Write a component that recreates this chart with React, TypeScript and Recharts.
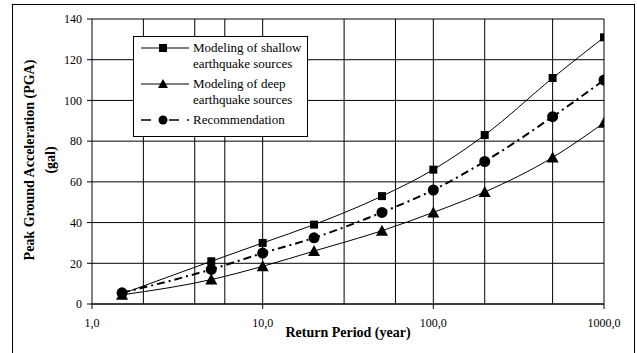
import React from "react";
import {
  LineChart,
  Line,
  XAxis,
  YAxis,
  CartesianGrid,
  Legend,
  Label,
} from "recharts";

// Return period in years (log axis)
const returnPeriods = [1.5, 5, 10, 20, 50, 100, 200, 500, 1000];

// Peak ground acceleration in gal
const shallowPGA = [5, 21, 30, 39, 53, 66, 83, 111, 131];
const deepPGA = [4.5, 12, 18.5, 26, 36, 45, 55, 72, 89];
const recommendedPGA = [5.5, 17, 25, 32.5, 45, 56, 70, 92, 110];

const xTicks = [1, 10, 100, 1000];
const yTicks = [0, 20, 40, 60, 80, 100, 120, 140];

// minor decade lines for the log grid
const xGridValues = [
  2, 3, 4, 5, 6, 7, 8, 9,
  10, 20, 30, 40, 50, 60, 70, 80, 90,
  100, 200, 300, 400, 500, 600, 700, 800, 900,
  1000,
];

const chartData = returnPeriods.map((period, i) => ({
  period,
  shallow: shallowPGA[i],
  deep: deepPGA[i],
  recommended: recommendedPGA[i],
}));

const FONT = "Liberation Serif, DejaVu Serif, serif";

const SquareDot = (props: any) => {
  const { cx, cy } = props;
  if (cx == null || cy == null) return null;
  return <rect x={cx - 4} y={cy - 4} width={8} height={8} fill="#000" />;
};

const TriangleDot = (props: any) => {
  const { cx, cy } = props;
  if (cx == null || cy == null) return null;
  return (
    <polygon
      points={`${cx},${cy - 6} ${cx + 6},${cy + 5} ${cx - 6},${cy + 5}`}
      fill="#000"
    />
  );
};

const CircleDot = (props: any) => {
  const { cx, cy } = props;
  if (cx == null || cy == null) return null;
  return <circle cx={cx} cy={cy} r={5.5} fill="#000" />;
};

const legendRows = [
  { icon: "square", lines: ["Modeling of shallow", "earthquake sources"] },
  { icon: "triangle", lines: ["Modeling of deep", "earthquake sources"] },
  { icon: "circle", lines: ["Recommendation"] },
];

const LegendIcon = ({ kind }: { kind: string }) => (
  <svg width={52} height={12} style={{ display: "block" }}>
    {kind === "circle" ? (
      <>
        <line x1={0} y1={6} x2={10} y2={6} stroke="#000" strokeWidth={1.5} />
        <line x1={28} y1={6} x2={38} y2={6} stroke="#000" strokeWidth={1.5} />
        <line x1={46} y1={6} x2={48} y2={6} stroke="#000" strokeWidth={1.5} />
        <circle cx={22} cy={6} r={4.5} fill="#000" />
      </>
    ) : (
      <>
        <line x1={0} y1={6} x2={48} y2={6} stroke="#000" strokeWidth={1} />
        {kind === "square" ? (
          <rect x={18} y={2} width={8} height={8} fill="#000" />
        ) : (
          <polygon points="22,1 27,10 17,10" fill="#000" />
        )}
      </>
    )}
  </svg>
);

const renderLegend = () => (
  <div
    style={{
      width: 175,
      height: 101,
      border: "1px solid #000",
      background: "#fff",
      fontFamily: FONT,
      fontSize: 13,
      lineHeight: "16px",
      color: "#000",
      padding: "3px 0 0 7px",
      boxSizing: "border-box",
    }}
  >
    {legendRows.map((row) => (
      <div key={row.icon} style={{ display: "flex", marginBottom: 4 }}>
        <div style={{ width: 52, paddingTop: 2 }}>
          <LegendIcon kind={row.icon} />
        </div>
        <div>
          {row.lines.map((t) => (
            <div key={t}>{t}</div>
          ))}
        </div>
      </div>
    ))}
  </div>
);

const formatPeriod = (v: number) => v.toFixed(1).replace(".", ",");

export default function App() {
  return (
    <div
      style={{
        position: "absolute",
        left: 0,
        top: 0,
        width: 637,
        height: 353,
        overflow: "hidden",
        background: "#fff",
      }}
    >
      <div
        style={{
          position: "absolute",
          left: 12,
          top: 4,
          width: 621,
          height: 400,
          border: "1px solid #000",
        }}
      />
      <LineChart
        width={637}
        height={353}
        data={chartData}
        margin={{ top: 19, right: 33, bottom: 19, left: 32 }}
        style={{ position: "absolute", left: 0, top: 0 }}
      >
        <CartesianGrid
          stroke="#000"
          strokeWidth={1}
          verticalValues={xGridValues}
          horizontalValues={yTicks}
        />
        <XAxis
          dataKey="period"
          type="number"
          scale="log"
          domain={[1, 1000]}
          ticks={xTicks}
          tickFormatter={formatPeriod}
          allowDataOverflow
          height={30}
          tickSize={5}
          tickMargin={9}
          stroke="#000"
          tick={{ fill: "#000", fontSize: 12, fontFamily: FONT }}
        >
          <Label
            value="Return Period (year)"
            position="bottom"
            offset={-7}
            style={{ fontFamily: FONT, fontSize: 14, fontWeight: "bold", fill: "#000" }}
          />
        </XAxis>
        <YAxis
          type="number"
          domain={[0, 140]}
          ticks={yTicks}
          width={60}
          tickSize={5}
          tickMargin={5}
          stroke="#000"
          tick={{ fill: "#000", fontSize: 12, fontFamily: FONT }}
        />
        <text
          x={29}
          y={160}
          transform="rotate(-90 29 160)"
          textAnchor="middle"
          dominantBaseline="central"
          style={{ fontFamily: FONT, fontSize: 14, fontWeight: "bold", fill: "#000" }}
        >
          Peak Ground Acceleration (PGA)
        </text>
        <text
          x={50}
          y={160}
          transform="rotate(-90 50 160)"
          textAnchor="middle"
          dominantBaseline="central"
          style={{ fontFamily: FONT, fontSize: 14, fontWeight: "bold", fill: "#000" }}
        >
          (gal)
        </text>
        <Legend
          layout="vertical"
          align="center"
          verticalAlign="middle"
          content={renderLegend}
          wrapperStyle={{ position: "absolute", left: 133, top: 36, width: 175 }}
        />
        <Line
          type="monotone"
          dataKey="shallow"
          stroke="#000"
          strokeWidth={1}
          dot={<SquareDot />}
          activeDot={false}
          isAnimationActive={false}
        />
        <Line
          type="monotone"
          dataKey="deep"
          stroke="#000"
          strokeWidth={1}
          dot={<TriangleDot />}
          activeDot={false}
          isAnimationActive={false}
        />
        <Line
          type="monotone"
          dataKey="recommended"
          stroke="#000"
          strokeWidth={2}
          strokeDasharray="8 4 2 4"
          dot={<CircleDot />}
          activeDot={false}
          isAnimationActive={false}
        />
      </LineChart>
    </div>
  );
}
